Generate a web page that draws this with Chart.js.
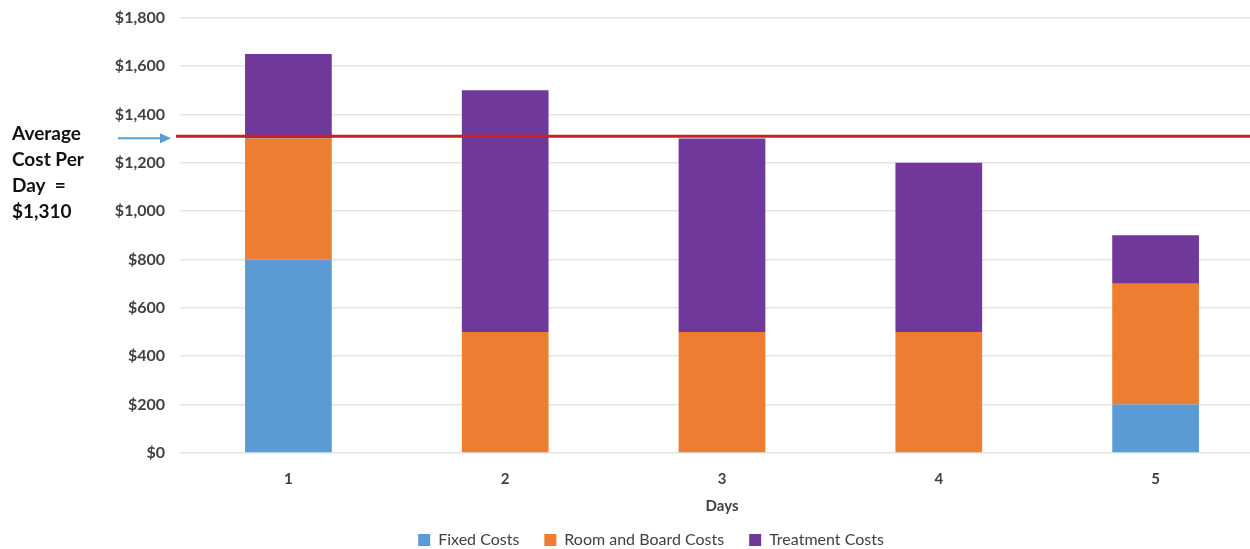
<!DOCTYPE html>
<html>
<head>
<meta charset="utf-8">
<script src="https://cdn.jsdelivr.net/npm/chart.js@4.4.1/dist/chart.umd.min.js"></script>
<style>
  html, body { margin: 0; padding: 0; background: #fff; overflow: hidden; }
  #wrap { width: 1264px; height: 556px; position: relative; top: -7px; }
</style>
</head>
<body>
<div id="wrap"><canvas id="costChart"></canvas></div>
<script>
// chart data
var days = ["1", "2", "3", "4", "5"];
var fixedCosts = [800, 0, 0, 0, 200];
var roomBoardCosts = [500, 500, 500, 500, 500];
var treatmentCosts = [350, 1000, 800, 700, 200];
var avgCost = 1310;
var avgLabel = ["Average", "Cost Per", "Day  =", "$1,310"];

// red average line + arrow + note on the left
var avgLinePlugin = {
    id: "avgLine",
    afterDatasetsDraw: function(chart) {
        var ctx = chart.ctx;
        var y = chart.scales.y.getPixelForValue(avgCost);
        ctx.save();
        ctx.strokeStyle = "#C4212B";
        ctx.lineWidth = 3;
        ctx.beginPath();
        ctx.moveTo(176, y);
        ctx.lineTo(chart.width, y);
        ctx.stroke();

        // arrow
        ctx.strokeStyle = "#5B9BD5";
        ctx.fillStyle = "#5B9BD5";
        ctx.lineWidth = 2;
        ctx.beginPath();
        ctx.moveTo(118, y + 2);
        ctx.lineTo(162, y + 2);
        ctx.stroke();
        ctx.beginPath();
        ctx.moveTo(171, y + 2);
        ctx.lineTo(160, y - 3);
        ctx.lineTo(160, y + 7);
        ctx.closePath();
        ctx.fill();

        // note text
        ctx.fillStyle = "#111";
        ctx.font = "bold 19px Lato, 'Open Sans', sans-serif";
        ctx.textAlign = "left";
        ctx.textBaseline = "middle";
        for (var i = 0; i < avgLabel.length; i++) {
            ctx.fillText(avgLabel[i], 12, y - 2 + i * 26);
        }
        ctx.restore();
    }
};

var ctx = document.getElementById("costChart");
var myChart = new Chart(ctx, {
    type: "bar",
    data: {
        labels: days,
        datasets: [{
            label: "Fixed Costs",
            data: fixedCosts,
            backgroundColor: "#5B9BD5"
        }, {
            label: "Room and Board Costs",
            data: roomBoardCosts,
            backgroundColor: "#ED7D31"
        }, {
            label: "Treatment Costs",
            data: treatmentCosts,
            backgroundColor: "#70389A"
        }]
    },
    options: {
        responsive: true,
        maintainAspectRatio: false,
        animation: false,
        categoryPercentage: 1,
        barPercentage: 0.4,
        layout: { padding: { top: 0, right: 0, bottom: 2, left: 38 } },
        plugins: {
            tooltip: { enabled: false },
            legend: {
                position: "bottom",
                maxHeight: 40,
                labels: {
                    boxWidth: 12,
                    boxHeight: 12,
                    padding: 25,
                    color: "#404040",
                    font: { family: "Lato, 'Open Sans', sans-serif", size: 16 }
                }
            }
        },
        scales: {
            x: {
                stacked: true,
                grid: { display: false },
                border: { display: false },
                ticks: {
                    color: "#404040",
                    padding: 9,
                    font: { family: "Lato, 'Open Sans', sans-serif", size: 15, weight: "bold" }
                },
                title: {
                    display: true,
                    text: "Days",
                    color: "#404040",
                    padding: { top: 0, bottom: -8 },
                    font: { family: "Lato, 'Open Sans', sans-serif", size: 15, weight: "bold" }
                }
            },
            y: {
                stacked: true,
                min: 0,
                max: 1800,
                afterFit: function(scale) { scale.width = 142; },
                grid: { color: "#E4E4E4", lineWidth: 1.5, drawTicks: false },
                border: { display: false },
                ticks: {
                    stepSize: 200,
                    padding: 15,
                    color: "#404040",
                    font: { family: "Lato, 'Open Sans', sans-serif", size: 16, weight: "bold" },
                    callback: function(v) { return "$" + v.toLocaleString("en-US"); }
                }
            }
        }
    },
    plugins: [avgLinePlugin]
});
</script>
</body>
</html>
